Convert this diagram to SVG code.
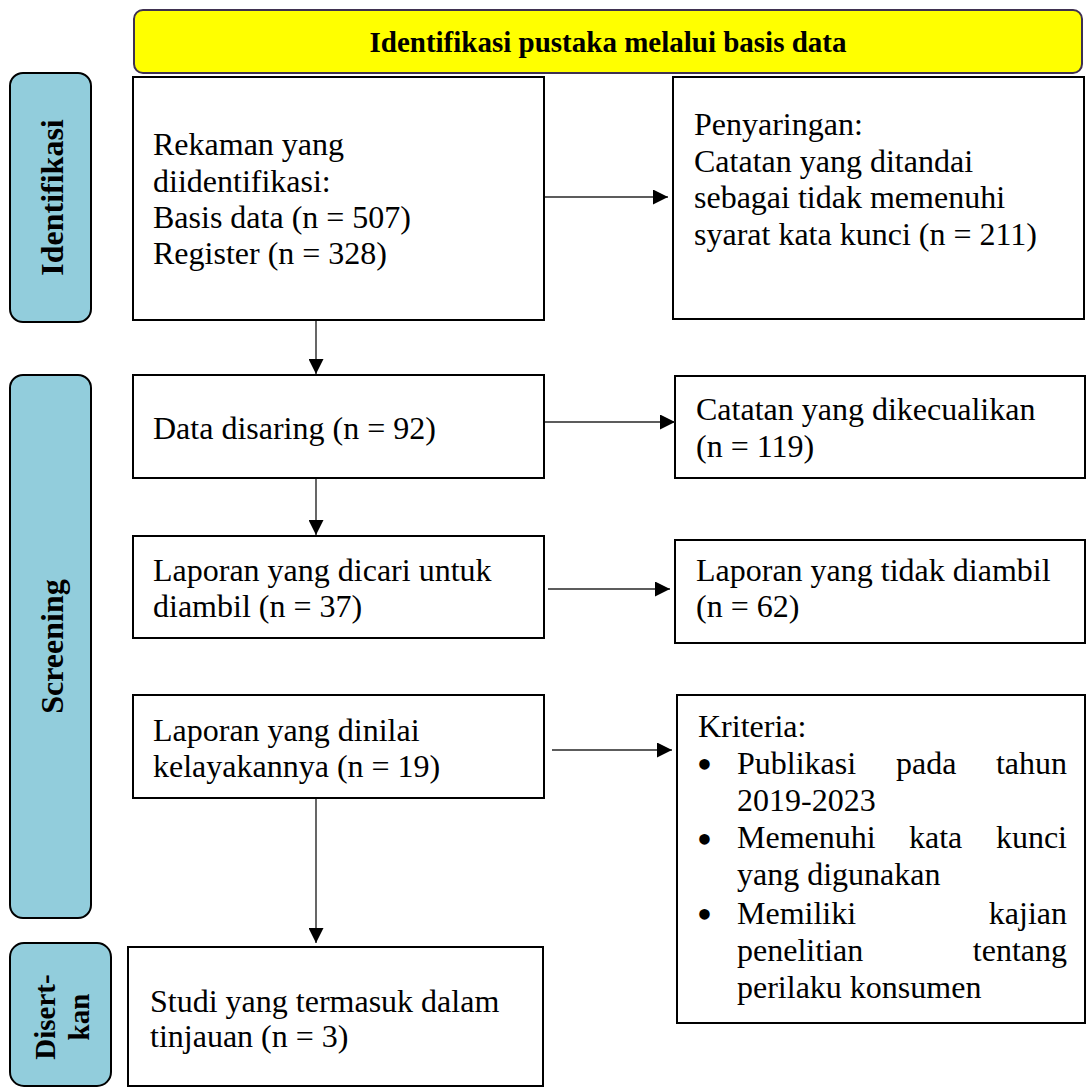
<svg xmlns="http://www.w3.org/2000/svg" width="1086" height="1088" viewBox="0 0 1086 1088">
<style>
.box{fill:#fff;stroke:#000;stroke-width:2}
.side{fill:#92cddc;stroke:#000;stroke-width:2}
.t{font-family:"Liberation Serif","Times New Roman",serif;font-size:32px;fill:#000}
.bl{font-family:"Liberation Serif","Times New Roman",serif;font-size:44px;fill:#000}
.b{font-family:"Liberation Serif","Times New Roman",serif;font-weight:bold;fill:#000}
.c{stroke:#262626;stroke-width:1.4;fill:none;marker-end:url(#ah)}
</style>
<defs>
<marker id="ah" markerUnits="userSpaceOnUse" markerWidth="16" markerHeight="15" refX="15" refY="7.5" orient="auto">
<path d="M0,0 L15,7.5 L0,15 z" fill="#000"/>
</marker>
</defs>
<rect width="1086" height="1088" fill="#fff"/>
<g id="header">
<rect x="134" y="10" width="948" height="63" rx="9" fill="#ffff00" stroke="#3f3151" stroke-width="2"/>
<text class="b" x="608" y="52" font-size="29" text-anchor="middle">Identifikasi pustaka melalui basis data</text>
</g>
<g id="lane-identifikasi">
<rect class="side" x="10" y="73" width="81" height="249" rx="13"/>
<text class="b" font-size="32" text-anchor="middle" transform="translate(63,197.5) rotate(-90)">Identifikasi</text>
</g>
<g id="lane-screening">
<rect class="side" x="10" y="375" width="81" height="543" rx="13"/>
<text class="b" font-size="32" text-anchor="middle" transform="translate(62.5,646.5) rotate(-90)">Screening</text>
</g>
<g id="lane-disertkan">
<rect class="side" x="10" y="943" width="101" height="143" rx="14"/>
<text class="b" font-size="29" text-anchor="middle" transform="translate(55,1017) rotate(-90)">Disert-</text>
<text class="b" font-size="29" text-anchor="middle" transform="translate(89,1017) rotate(-90)">kan</text>
</g>
<g id="n-rekaman">
<rect class="box" x="133" y="77" width="411" height="243"/>
<text class="t" x="153" y="155">Rekaman yang</text>
<text class="t" x="153" y="191.5">diidentifikasi:</text>
<text class="t" x="153" y="228">Basis data (n = 507)</text>
<text class="t" x="153" y="264">Register (n = 328)</text>
</g>
<g id="n-penyaringan">
<rect class="box" x="673" y="77" width="411" height="242"/>
<text class="t" x="694" y="135">Penyaringan:</text>
<text class="t" x="694" y="172">Catatan yang ditandai</text>
<text class="t" x="694" y="208">sebagai tidak memenuhi</text>
<text class="t" x="694" y="245">syarat kata kunci (n = 211)</text>
</g>
<g id="n-disaring">
<rect class="box" x="133" y="375" width="411" height="103"/>
<text class="t" x="153" y="439">Data disaring (n = 92)</text>
</g>
<g id="n-dikecualikan">
<rect class="box" x="675" y="376" width="410" height="102"/>
<text class="t" x="696" y="420">Catatan yang dikecualikan</text>
<text class="t" x="696" y="457">(n = 119)</text>
</g>
<g id="n-dicari">
<rect class="box" x="133" y="536" width="411" height="102"/>
<text class="t" x="153" y="580.5">Laporan yang dicari untuk</text>
<text class="t" x="153" y="617">diambil (n = 37)</text>
</g>
<g id="n-tidak-diambil">
<rect class="box" x="675" y="540" width="410" height="103"/>
<text class="t" x="696" y="580.5">Laporan yang tidak diambil</text>
<text class="t" x="696" y="617">(n = 62)</text>
</g>
<g id="n-dinilai">
<rect class="box" x="133" y="695" width="411" height="103"/>
<text class="t" x="153" y="740.5">Laporan yang dinilai</text>
<text class="t" x="153" y="777">kelayakannya (n = 19)</text>
</g>
<g id="n-kriteria">
<rect class="box" x="677" y="695" width="408" height="328"/>
<text class="t" x="698" y="737">Kriteria:</text>
<text class="bl" x="704.5" y="779" text-anchor="middle">•</text>
<text class="t" x="737" y="774">Publikasi</text>
<text class="t" x="896" y="774">pada</text>
<text class="t" x="1067" y="774" text-anchor="end">tahun</text>
<text class="t" x="737" y="811">2019-2023</text>
<text class="bl" x="704.5" y="854" text-anchor="middle">•</text>
<text class="t" x="737" y="848">Memenuhi</text>
<text class="t" x="909" y="848">kata</text>
<text class="t" x="1067" y="848" text-anchor="end">kunci</text>
<text class="t" x="737" y="885">yang digunakan</text>
<text class="bl" x="704.5" y="929" text-anchor="middle">•</text>
<text class="t" x="737" y="923.5">Memiliki</text>
<text class="t" x="1067" y="923.5" text-anchor="end">kajian</text>
<text class="t" x="737" y="960.5">penelitian</text>
<text class="t" x="1067" y="960.5" text-anchor="end">tentang</text>
<text class="t" x="737" y="997.5">perilaku konsumen</text>
</g>
<g id="n-studi">
<rect class="box" x="128" y="947" width="415" height="139"/>
<text class="t" x="150" y="1012">Studi yang termasuk dalam</text>
<text class="t" x="150" y="1047">tinjauan (n = 3)</text>
</g>
<g id="connectors">
<line class="c" x1="545" y1="197" x2="668" y2="197"/>
<line class="c" x1="545" y1="422" x2="675" y2="422"/>
<line class="c" x1="548" y1="589" x2="670" y2="589"/>
<line class="c" x1="552" y1="750" x2="672" y2="750"/>
<line class="c" x1="316" y1="321" x2="316" y2="374"/>
<line class="c" x1="316" y1="479" x2="316" y2="535"/>
<line class="c" x1="316" y1="799" x2="316" y2="943"/>
</g>
</svg>
